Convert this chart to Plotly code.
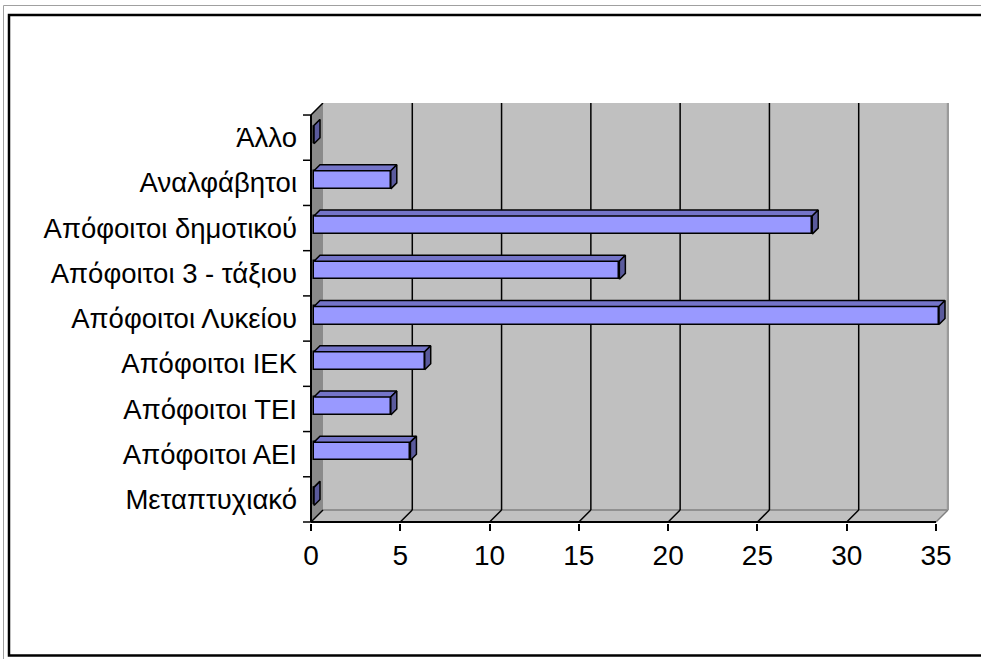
import plotly.graph_objects as go

# ---------------- data ----------------
categories = ["Μεταπτυχιακό", "Απόφοιτοι ΑΕΙ", "Απόφοιτοι ΤΕΙ", "Απόφοιτοι ΙΕΚ",
              "Απόφοιτοι Λυκείου", "Απόφοιτοι 3 - τάξιου", "Απόφοιτοι δημοτικού",
              "Αναλφάβητοι", "Άλλο"]
values = [0.0, 5.4, 4.3, 6.2, 35.0, 17.1, 27.9, 4.3, 0.0]
x_ticks = [0, 5, 10, 15, 20, 25, 30, 35]

# ---------------- geometry / style ----------------
W, H = 981, 659
PXX = 625 / 35.0          # px per x unit
PXY = 45.22               # px per category
X0PX, Y0PX = 311, 522     # pixel position of front-plane origin
L, R, T, B = 302, 32, 103, 136
PW, PH = W - L - R, H - T - B

def x_of_px(p):
    return (p - X0PX) / PXX

def y_of_px(p):
    return (Y0PX - p) / PXY

WX, WY = 12 / PXX, 12 / PXY      # wall depth
BX0, BY0 = 3 / PXX, 3 / PXY      # bar front offset
BDX, BDY = 6 / PXX, 6 / PXY      # bar depth
BW = 0.4
NC = len(categories)
XMAX = x_ticks[-1]

FONT = "Liberation Sans, Arial, sans-serif"
FRONT, TOP, SIDE = "#9999FF", "#7474C8", "#5A5A9C"
WALL, SIDEWALL = "#C0C0C0", "#8A8A8A"

fig = go.Figure()
shapes = []

def poly(pts, fill, line="rgba(0,0,0,0)", lw=0, layer="below"):
    path = "M " + " L ".join(f"{x},{y}" for x, y in pts) + " Z"
    return dict(type="path", path=path, xref="x", yref="y", fillcolor=fill,
                line=dict(color=line, width=lw), layer=layer)

def seg(x0, y0, x1, y1, color="black", w=1.5, layer="below"):
    return dict(type="line", x0=x0, y0=y0, x1=x1, y1=y1, xref="x", yref="y",
                line=dict(color=color, width=w), layer=layer)

# walls
shapes.append(poly([(WX, WY), (XMAX + WX, WY), (XMAX + WX, NC + WY), (WX, NC + WY)], WALL))
shapes.append(poly([(0, 0), (WX, WY), (WX, NC + WY), (0, NC)], SIDEWALL))
shapes.append(poly([(0, 0), (XMAX, 0), (XMAX + WX, WY), (WX, WY)], WALL))
# wall edges
shapes.append(seg(WX, WY, XMAX + WX, WY, "#808080", 1.5))
shapes.append(seg(XMAX + WX, WY, XMAX + WX, NC + WY, "#9a9a9a", 2.5))
shapes.append(seg(XMAX, 0, XMAX + WX, WY, "#808080", 1.5))
# gridlines on back wall and floor
for t in x_ticks[1:-1]:
    shapes.append(seg(t + WX, WY, t + WX, NC + WY, "black", 1.5))
for t in x_ticks[:-1]:
    shapes.append(seg(t, 0, t + WX, WY, "black", 1.5))
# axis lines
shapes.append(seg(0, 0, XMAX, 0, "black", 2))
shapes.append(seg(0, 0, 0, NC, "black", 2))
shapes.append(seg(0, NC, WX, NC + WY, "black", 1.5))
for i in range(NC + 1):
    shapes.append(seg(x_of_px(303), i, 0, i, "black", 1.5))

# bars: front face via Bar trace
ypos = [i + 0.5 + BY0 for i in range(NC)]
fig.add_trace(go.Bar(
    y=ypos, x=values, base=[BX0] * NC, orientation="h", width=BW,
    marker=dict(color=FRONT, line=dict(color="black", width=1.5)),
    hoverinfo="skip", showlegend=False))

# top and side faces
for v, yc in zip(values, ypos):
    y_lo, y_hi = yc - BW / 2, yc + BW / 2
    xs = BX0 + v
    top = [(BX0, y_hi), (xs, y_hi), (xs + BDX, y_hi + BDY), (BX0 + BDX, y_hi + BDY), (BX0, y_hi)]
    side = [(xs, y_lo), (xs + BDX, y_lo + BDY), (xs + BDX, y_hi + BDY), (xs, y_hi), (xs, y_lo)]
    for pts, col in ((top, TOP), (side, SIDE)):
        fig.add_trace(go.Scatter(
            x=[p[0] for p in pts], y=[p[1] for p in pts], mode="lines",
            fill="toself", fillcolor=col, line=dict(color="black", width=1.5),
            hoverinfo="skip", showlegend=False))

# outer frame (paper coordinates)
def px2paper_x(p):
    return (p - L) / PW

def px2paper_y(p):
    return (H - B - p) / PH

shapes.append(dict(type="rect", xref="paper", yref="paper",
                   x0=px2paper_x(3.5), x1=px2paper_x(990), y0=px2paper_y(5.5), y1=px2paper_y(670),
                   line=dict(color="#a0a0a0", width=1), fillcolor="rgba(0,0,0,0)", layer="below"))
shapes.append(dict(type="rect", xref="paper", yref="paper",
                   x0=px2paper_x(9), x1=px2paper_x(990), y0=px2paper_y(15), y1=px2paper_y(655.5),
                   line=dict(color="black", width=2.5), fillcolor="rgba(0,0,0,0)", layer="below"))

fig.update_layout(
    width=W, height=H,
    margin=dict(l=L, r=R, t=T, b=B, pad=0),
    paper_bgcolor="white", plot_bgcolor="white",
    shapes=shapes, bargap=0, showlegend=False,
    font=dict(family=FONT, size=28, color="black"),
    xaxis=dict(range=[x_of_px(L), x_of_px(W - R)], tickvals=x_ticks,
               ticktext=[str(t) for t in x_ticks], ticks="outside", ticklen=7,
               tickwidth=1.5, tickcolor="black", showgrid=False, zeroline=False,
               showline=False, automargin=False, ticklabelstandoff=0,
               tickfont=dict(family=FONT, size=28, color="black"), fixedrange=True),
    yaxis=dict(range=[y_of_px(H - B), y_of_px(T)], tickvals=[i + 0.5 for i in range(NC)],
               ticktext=categories, ticks="", showgrid=False, zeroline=False,
               showline=False, automargin=False, ticklabelstandoff=4,
               tickfont=dict(family=FONT, size=27.5, color="black"), fixedrange=True),
)

fig.write_html(
    "out.html",
    config={"displayModeBar": False},
    post_script="document.body.style.margin='0';document.body.style.overflow='hidden';",
)
